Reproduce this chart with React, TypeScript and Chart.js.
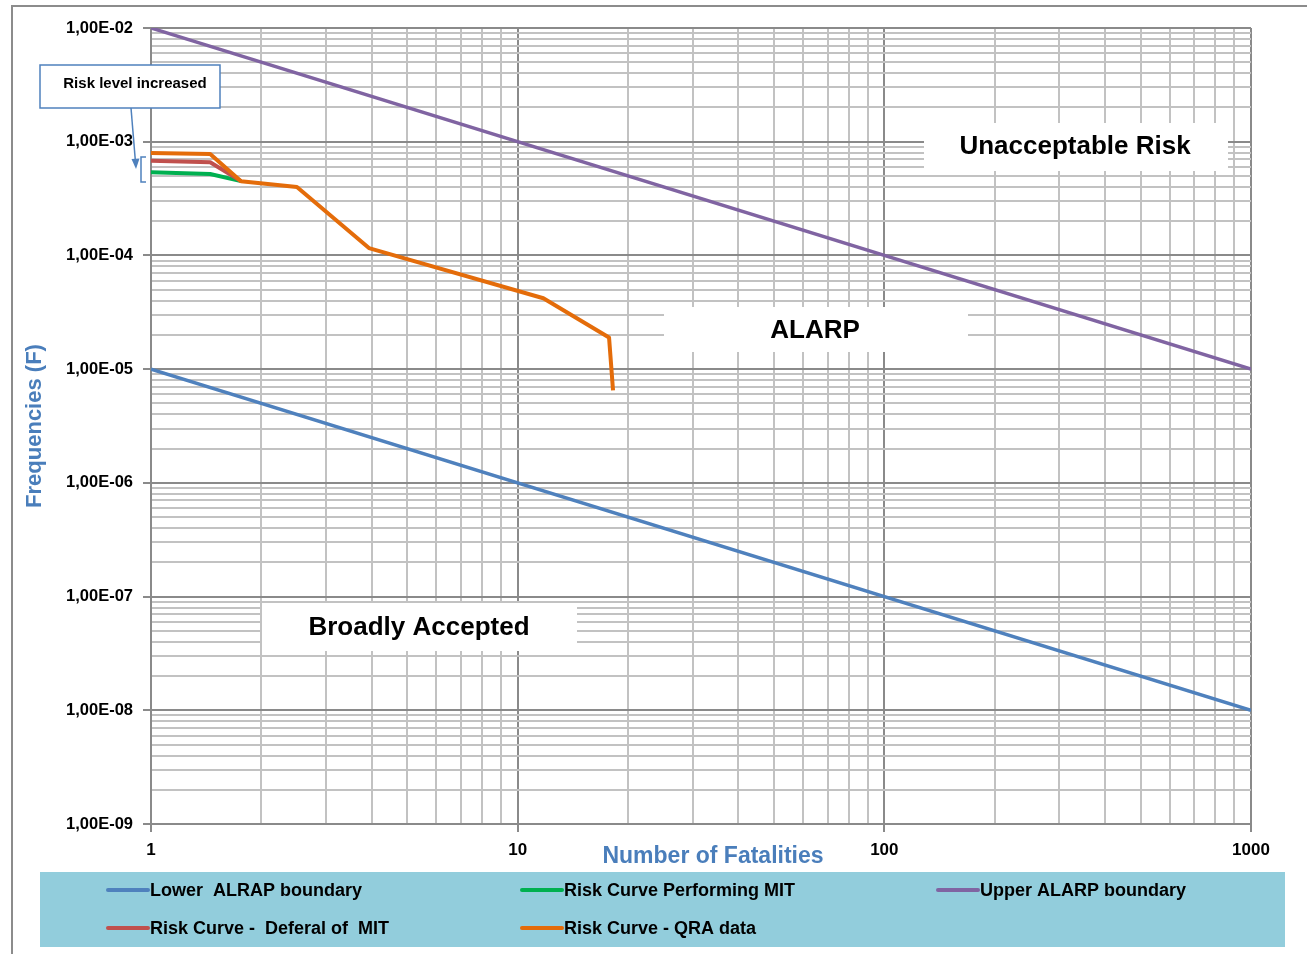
import React, { useEffect, useRef } from 'react';
import { Chart, registerables } from 'chart.js';

Chart.register(...registerables);

// ---- Data ----
const xTickLabels = ['1', '10', '100', '1000'];
const yTickLabels = ['1,00E-09', '1,00E-08', '1,00E-07', '1,00E-06', '1,00E-05', '1,00E-04', '1,00E-03', '1,00E-02'];

const lowerX = [1, 1000];
const lowerY = [1e-5, 1e-8];
const upperX = [1, 1000];
const upperY = [1e-2, 1e-5];
const mitX = [1, 1.45, 1.76];
const mitY = [5.4e-4, 5.2e-4, 4.5e-4];
const deferalX = [1, 1.45, 1.76];
const deferalY = [6.8e-4, 6.6e-4, 4.5e-4];
const qraX = [1, 1.45, 1.76, 2.5, 3.93, 11.75, 17.75, 18.2];
const qraY = [7.96e-4, 7.8e-4, 4.5e-4, 4.0e-4, 1.16e-4, 4.2e-5, 1.9e-5, 6.5e-6];

const seriesNames = [
  'Lower  ALRAP boundary',
  'Risk Curve Performing MIT',
  'Upper ALARP boundary',
  'Risk Curve -  Deferal of  MIT',
  'Risk Curve - QRA data',
];
const seriesColors = ['#4F81BD', '#00B050', '#8064A2', '#C0504D', '#E46C0A'];

const zoneLabels = ['Unacceptable Risk', 'ALARP', 'Broadly Accepted'];
const calloutText = 'Risk level increased';
const xTitle = 'Number of Fatalities';
const yTitle = 'Frequencies (F)';

const mantissas = [1, 2, 3, 4, 5, 6, 7, 8, 9];

const FONT = '"Liberation Sans", Arial, sans-serif';
const TITLE_BLUE = '#4A7EBB';

function logTicks(minExp: number, maxExp: number) {
  const out: number[] = [];
  for (let e = minExp; e < maxExp; e++) {
    for (const m of mantissas) out.push(parseFloat((m * Math.pow(10, e)).toPrecision(12)));
  }
  out.push(parseFloat(Math.pow(10, maxExp).toPrecision(12)));
  return out;
}

function isDecade(v: number) {
  const l = Math.log10(v);
  return Math.abs(l - Math.round(l)) < 1e-9;
}

function pts(xs: number[], ys: number[]) {
  return xs.map((x, i) => ({ x, y: ys[i] }));
}

const decorPlugin = {
  id: 'decor',
  beforeDatasetsDraw(chart: any) {
    const ctx = chart.ctx as CanvasRenderingContext2D;
    ctx.save();
    const boxes = [
      { t: zoneLabels[0], x0: 924, y0: 123, x1: 1228, y1: 171, cx: 1075, cy: 147 },
      { t: zoneLabels[1], x0: 664, y0: 307, x1: 968, y1: 352, cx: 815, cy: 331 },
      { t: zoneLabels[2], x0: 262, y0: 603, x1: 577, y1: 651, cx: 419, cy: 628 },
    ];
    for (const b of boxes) {
      ctx.fillStyle = '#ffffff';
      ctx.fillRect(b.x0, b.y0, b.x1 - b.x0, b.y1 - b.y0);
      ctx.fillStyle = '#000000';
      ctx.font = `bold 26px ${FONT}`;
      ctx.textAlign = 'center';
      ctx.textBaseline = 'middle';
      ctx.fillText(b.t, b.cx, b.cy);
    }
    ctx.restore();
  },
  afterDraw(chart: any) {
    const ctx = chart.ctx as CanvasRenderingContext2D;
    ctx.save();
    // outer frame
    ctx.strokeStyle = '#8c8c8c';
    ctx.lineWidth = 2;
    ctx.beginPath();
    ctx.moveTo(12, 960);
    ctx.lineTo(12, 6);
    ctx.lineTo(1310, 6);
    ctx.stroke();

    // axis titles
    ctx.fillStyle = TITLE_BLUE;
    ctx.font = `bold 23px ${FONT}`;
    ctx.textAlign = 'center';
    ctx.textBaseline = 'middle';
    ctx.fillText(xTitle, 713, 857);
    ctx.save();
    ctx.translate(35, 426);
    ctx.rotate(-Math.PI / 2);
    ctx.font = `bold 22px ${FONT}`;
    ctx.fillText(yTitle, 0, 0);
    ctx.restore();

    // legend
    ctx.fillStyle = '#92CDDC';
    ctx.fillRect(40, 872, 1245, 75);
    const cols = [108, 522, 938];
    const rows = [890, 928];
    ctx.font = `bold 18px ${FONT}`;
    ctx.textAlign = 'left';
    ctx.textBaseline = 'middle';
    seriesNames.forEach((name, i) => {
      const c = cols[i % 3];
      const r = rows[Math.floor(i / 3)];
      ctx.strokeStyle = seriesColors[i];
      ctx.lineWidth = 4;
      ctx.lineCap = 'round';
      ctx.beginPath();
      ctx.moveTo(c, r);
      ctx.lineTo(c + 40, r);
      ctx.stroke();
      ctx.fillStyle = '#000000';
      ctx.fillText(name, c + 42, r + 1);
    });

    // callout box
    ctx.lineCap = 'butt';
    ctx.fillStyle = '#ffffff';
    ctx.fillRect(40, 65, 180, 43);
    ctx.strokeStyle = '#4F81BD';
    ctx.lineWidth = 1.5;
    ctx.strokeRect(40, 65, 180, 43);
    ctx.fillStyle = '#000000';
    ctx.font = `bold 15px ${FONT}`;
    ctx.textAlign = 'center';
    ctx.fillText(calloutText, 135, 84);

    // arrow
    ctx.strokeStyle = '#4F81BD';
    ctx.fillStyle = '#4F81BD';
    ctx.lineWidth = 1.5;
    ctx.beginPath();
    ctx.moveTo(131, 108);
    ctx.lineTo(135.3, 160);
    ctx.stroke();
    ctx.beginPath();
    ctx.moveTo(136, 169);
    ctx.lineTo(131.5, 159);
    ctx.lineTo(139.5, 158.5);
    ctx.closePath();
    ctx.fill();

    // bracket
    ctx.lineWidth = 1.5;
    ctx.beginPath();
    ctx.moveTo(146, 157);
    ctx.lineTo(141, 157);
    ctx.lineTo(141, 182);
    ctx.lineTo(146, 182);
    ctx.stroke();
    ctx.restore();
  },
};

export default function App() {
  const ref = useRef<HTMLCanvasElement | null>(null);

  useEffect(() => {
    if (!ref.current) return;
    const xTicks = logTicks(0, 3);
    const yTicks = logTicks(-9, -2);
    const gridColor = (c: any) => (c.tick && isDecade(c.tick.value) ? '#8a8a8a' : '#c2c2c2');
    const tickColor = (c: any) => (c.tick && isDecade(c.tick.value) ? '#8a8a8a' : 'rgba(0,0,0,0)');

    const chart = new Chart(ref.current, {
      type: 'line',
      data: {
        datasets: [
          { label: seriesNames[4], data: pts(qraX, qraY), borderColor: seriesColors[4], borderWidth: 4, order: 0 },
          { label: seriesNames[3], data: pts(deferalX, deferalY), borderColor: seriesColors[3], borderWidth: 4, order: 1 },
          { label: seriesNames[1], data: pts(mitX, mitY), borderColor: seriesColors[1], borderWidth: 4, order: 2 },
          { label: seriesNames[2], data: pts(upperX, upperY), borderColor: seriesColors[2], borderWidth: 3.5, order: 3 },
          { label: seriesNames[0], data: pts(lowerX, lowerY), borderColor: seriesColors[0], borderWidth: 3.5, order: 4 },
        ].map((d) => ({ ...d, pointRadius: 0, fill: false, tension: 0, borderJoinStyle: 'round' as const })),
      },
      options: {
        animation: false,
        responsive: false,
        maintainAspectRatio: false,
        devicePixelRatio: 1,
        layout: { padding: { left: 0, top: 28, right: 56, bottom: 0 } },
        plugins: { legend: { display: false }, tooltip: { enabled: false }, title: { display: false } },
        scales: {
          x: {
            type: 'logarithmic',
            min: 1,
            max: 1000,
            afterBuildTicks: (s: any) => {
              s.ticks = xTicks.map((v) => ({ value: v }));
            },
            afterFit: (s: any) => {
              s.height = 130;
              s.paddingLeft = 0;
              s.paddingRight = 0;
            },
            grid: { color: gridColor, lineWidth: 2, tickColor, tickLength: 8, drawTicks: true },
            border: { display: true, color: '#8a8a8a', width: 2 },
            ticks: {
              autoSkip: false,
              maxRotation: 0,
              padding: 8,
              color: '#000000',
              font: { family: FONT, weight: 'bold', size: 17 },
              callback: (v: any) => (isDecade(Number(v)) ? xTickLabels[Math.round(Math.log10(Number(v)))] : ''),
            },
          },
          y: {
            type: 'logarithmic',
            min: 1e-9,
            max: 1e-2,
            afterBuildTicks: (s: any) => {
              s.ticks = yTicks.map((v) => ({ value: v }));
            },
            afterFit: (s: any) => {
              s.width = 151;
              s.paddingTop = 0;
              s.paddingBottom = 0;
            },
            grid: { color: gridColor, lineWidth: 2, tickColor, tickLength: 8, drawTicks: true },
            border: { display: true, color: '#8a8a8a', width: 2 },
            ticks: {
              autoSkip: false,
              padding: 10,
              color: '#000000',
              font: { family: FONT, weight: 'bold', size: 16.5 },
              callback: (v: any) => (isDecade(Number(v)) ? yTickLabels[Math.round(Math.log10(Number(v))) + 9] : ''),
            },
          },
        },
      },
      plugins: [decorPlugin],
    } as any);
    return () => chart.destroy();
  }, []);

  return (
    <div style={{ position: 'fixed', left: 0, top: 0, width: 1307, height: 954, background: '#ffffff' }}>
      <canvas ref={ref} width={1307} height={954} style={{ width: 1307, height: 954, display: 'block' }} />
    </div>
  );
}
